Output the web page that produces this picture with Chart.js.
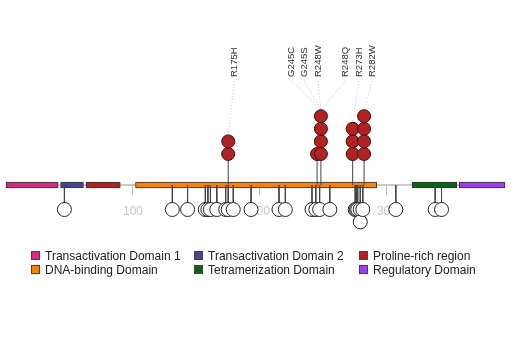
<!DOCTYPE html>
<html>
<head>
<meta charset="utf-8">
<script src="https://cdn.jsdelivr.net/npm/chart.js@4.4.0/dist/chart.umd.min.js"></script>
<style>
body{margin:0;background:#fff;}
#wrap{position:relative;width:520px;height:347px;}
#legend{position:absolute;left:0;top:0;width:520px;height:347px;pointer-events:none;
  font:12px "Liberation Sans",Arial,sans-serif;color:#222;}
.item{position:absolute;white-space:nowrap;line-height:14px;height:14px;}
.box{display:inline-block;width:7px;height:7px;border:1px solid #444;margin-right:5px;}
</style>
</head>
<body>
<div id="wrap">
  <canvas id="myChart" width="520" height="347"></canvas>
  <div id="legend"></div>
</div>
<script>
// dominios de la proteina
const domainNames = ['Transactivation Domain 1', 'Transactivation Domain 2', 'Proline-rich region',
                     'DNA-binding Domain', 'Tetramerization Domain', 'Regulatory Domain'];
const domainStart = [0, 43, 63, 102, 320, 357];
const domainEnd = [41, 61, 90, 292, 355, 393];
const domainColors = ['#d12e80', '#4a4496', '#b02323', '#f5820f', '#0a6413', '#9b3ff0'];
const proteinLength = 393;

// mutaciones arriba (rojas)
const upPos = [175, 245, 248, 273, 282];
const upCount = [2, 1, 4, 3, 4];
const upLabels = ['R175H', 'G245C', 'G245S', 'R248W', 'R248Q', 'R273H', 'R282W'];
const upLabelTarget = [175, 248, 248, 248, 248, 273, 282];

// mutaciones abajo (blancas)
const downPos = [46, 131, 143, 157, 159, 161, 166, 173, 175, 179, 193, 215, 220,
                 241, 244, 247, 255, 275, 276, 277, 279, 281, 307, 338, 343];
const downCount = [1, 1, 1, 1, 1, 1, 1, 1, 1, 1, 1, 1, 1,
                   1, 1, 1, 1, 1, 1, 1, 2, 1, 1, 1, 1];

const xTicks = [100, 200, 300];

// layout (unidades: px sobre el eje)
const UP_FIRST = 31, UP_STEP = 12.6, R_UP = 6.5;
const DOWN_FIRST = -24.5, DOWN_STEP = -12.4, R_DOWN = 7;
const labelX = [180, 225, 234.7, 245.7, 267.2, 278, 288.6];
const LABEL_Y = 108, CONN_Y = 104;

let stems = [], redPts = [], whitePts = [], connectors = [];
upPos.forEach((p, i) => {
    stems.push({x: p, y: 0}, {x: p, y: UP_FIRST}, {x: p, y: null});
    for (let k = 0; k < upCount[i]; k++) redPts.push({x: p, y: UP_FIRST + UP_STEP * k});
});
downPos.forEach((p, i) => {
    stems.push({x: p, y: 0}, {x: p, y: DOWN_FIRST}, {x: p, y: null});
    for (let k = 0; k < downCount[i]; k++) whitePts.push({x: p, y: DOWN_FIRST + DOWN_STEP * k});
});
upLabels.forEach((t, i) => {
    let tgt = upLabelTarget[i];
    let n = upCount[upPos.indexOf(tgt)];
    connectors.push({x: labelX[i], y: CONN_Y}, {x: tgt, y: UP_FIRST + UP_STEP * (n - 1) + R_UP}, {x: tgt, y: null});
});

// etiquetas rotadas
const mutLabels = {
    id: 'mutLabels',
    afterDatasetsDraw(chart) {
        const {ctx, scales: {x, y}} = chart;
        ctx.save();
        ctx.font = '9.5px "Liberation Sans", Arial, sans-serif';
        ctx.fillStyle = '#333';
        ctx.textAlign = 'left';
        ctx.textBaseline = 'middle';
        upLabels.forEach((t, i) => {
            ctx.save();
            ctx.translate(x.getPixelForValue(labelX[i]), y.getPixelForValue(LABEL_Y));
            ctx.rotate(-Math.PI / 2);
            ctx.fillText(t, 0, 0);
            ctx.restore();
        });
        ctx.restore();
    }
};

let ctx = document.getElementById('myChart').getContext('2d');
let chart = new Chart(ctx, {
    type: 'scatter',
    data: {
        datasets: [
            {type: 'line', data: [{x: 0, y: 0}, {x: proteinLength, y: 0}], borderColor: '#999',
             borderWidth: 1, pointRadius: 0, order: 10},
            {type: 'bar', indexAxis: 'y', data: domainStart.map((s, i) => ({x: [s, domainEnd[i]], y: 0})),
             backgroundColor: domainColors, borderColor: '#333', borderWidth: 1, borderSkipped: false,
             barThickness: 6, order: 9},
            {type: 'line', data: stems, borderColor: '#444', borderWidth: 1, pointRadius: 0,
             spanGaps: false, order: 8},
            {type: 'line', data: connectors, borderColor: '#c4c4c4', borderWidth: 1, borderDash: [1, 2],
             pointRadius: 0, spanGaps: false, order: 7},
            {data: whitePts, pointRadius: R_DOWN, backgroundColor: '#fff', borderColor: '#222',
             borderWidth: 1, order: 6},
            {data: redPts, pointRadius: R_UP, backgroundColor: '#b22222', borderColor: '#3b0c0c',
             borderWidth: 1, order: 5}
        ]
    },
    options: {
        responsive: false,
        animation: false,
        devicePixelRatio: 1,
        events: [],
        layout: {padding: 0, autoPadding: false},
        plugins: {legend: {display: false}, tooltip: {enabled: false}},
        scales: {
            x: {
                type: 'linear', min: -4.73, max: 404.8, offset: false, position: {y: 0},
                afterBuildTicks: s => { s.ticks = xTicks.map(v => ({value: v})); },
                grid: {drawOnChartArea: false, offset: false, tickLength: 10, color: '#bbb'},
                border: {display: false},
                ticks: {color: '#c4c4c4', padding: 9, maxRotation: 0,
                        font: {size: 12, family: '"Liberation Sans", Arial, sans-serif'}}
            },
            y: {type: 'linear', display: false, offset: false, grid: {offset: false}, min: -162, max: 185}
        }
    },
    plugins: [mutLabels]
});

// leyenda en 3 columnas
const legendCols = [31, 194, 359];
const legendRows = [249, 263];
let legend = document.getElementById('legend');
domainNames.forEach((name, i) => {
    let el = document.createElement('div');
    el.className = 'item';
    el.style.left = legendCols[i % 3] + 'px';
    el.style.top = legendRows[Math.floor(i / 3)] + 'px';
    el.innerHTML = '<span class="box" style="background:' + domainColors[i] + '"></span>' + name;
    legend.appendChild(el);
});
</script>
</body>
</html>
